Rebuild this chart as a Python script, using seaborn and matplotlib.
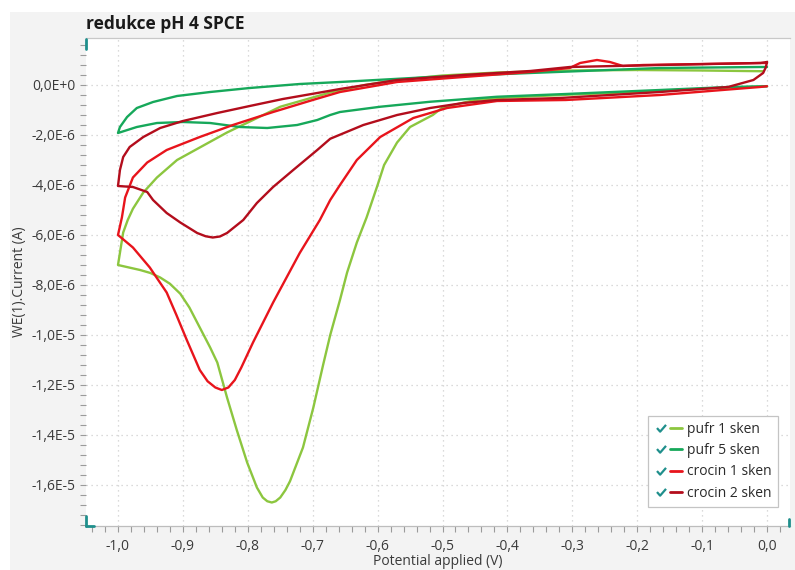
import numpy as np
import pandas as pd
import matplotlib
matplotlib.use("Agg")
import matplotlib.pyplot as plt
import seaborn as sns
from matplotlib.path import Path
from matplotlib.lines import Line2D
from matplotlib.patches import Rectangle
from matplotlib.legend_handler import HandlerTuple
from matplotlib.ticker import MultipleLocator, FuncFormatter

# ---------------- data (potential in V, current in microamps) ----------------
series_names = ["pufr 1 sken", "pufr 5 sken", "crocin 1 sken", "crocin 2 sken"]
series_colors = ["#8cc63f", "#16a85a", "#e8141c", "#b30d1c"]

pufr1_V = [0.0, -0.1, -0.2, -0.3, -0.4, -0.45, -0.5, -0.515, -0.55, -0.57, -0.59, -0.60,
           -0.617, -0.632, -0.647, -0.658, -0.673, -0.684, -0.699, -0.715, -0.735, -0.742,
           -0.750, -0.757, -0.763, -0.770, -0.777, -0.786, -0.801, -0.817, -0.832, -0.847,
           -0.858, -0.869, -0.88, -0.89, -0.904, -0.92, -0.935, -0.95, -0.966, -0.983, -1.0,
           -0.992, -0.985, -0.977, -0.961, -0.940, -0.909, -0.874, -0.832, -0.792, -0.750,
           -0.70, -0.673, -0.62, -0.57, -0.5, -0.416, -0.3, -0.2, -0.1, -0.005]
pufr1_I = [-0.05, -0.15, -0.28, -0.38, -0.5, -0.6, -0.9, -1.2, -1.68, -2.3, -3.2, -4.0,
           -5.3, -6.3, -7.5, -8.6, -10.0, -11.2, -12.9, -14.5, -15.85, -16.2,
           -16.5, -16.65, -16.7, -16.65, -16.5, -16.1, -15.1, -13.8, -12.5, -11.1,
           -10.5, -9.95, -9.4, -8.9, -8.35, -7.95, -7.7, -7.52, -7.4, -7.3, -7.2,
           -5.9, -5.4, -4.95, -4.3, -3.7, -3.0, -2.5, -1.9, -1.4, -0.87,
           -0.5, -0.3, 0.0, 0.2, 0.38, 0.5, 0.58, 0.6, 0.58, 0.55]

pufr5_V = [0.0, -0.06, -0.165, -0.31, -0.416, -0.519, -0.596, -0.658, -0.673, -0.693,
           -0.724, -0.770, -0.812, -0.858, -0.90, -0.94, -0.971, -1.0,
           -0.997, -0.986, -0.971, -0.946, -0.909, -0.858, -0.797, -0.72, -0.658,
           -0.519, -0.365, -0.304, -0.165, -0.01, 0.0]
pufr5_I = [-0.05, -0.08, -0.2, -0.36, -0.47, -0.67, -0.87, -1.08, -1.2, -1.4,
           -1.6, -1.72, -1.68, -1.52, -1.48, -1.52, -1.68, -1.92,
           -1.68, -1.28, -0.92, -0.68, -0.44, -0.28, -0.12, 0.04, 0.12,
           0.32, 0.48, 0.54, 0.68, 0.72, 0.72]

crocin1_V = [0.0, -0.011, -0.165, -0.31, -0.416, -0.493, -0.545, -0.596, -0.632, -0.658,
             -0.673, -0.689, -0.72, -0.761, -0.792, -0.801, -0.81, -0.82, -0.83, -0.84,
             -0.85, -0.862, -0.874, -0.894, -0.91, -0.925, -0.951, -0.977, -1.0,
             -0.994, -0.989, -0.977, -0.955, -0.925, -0.874, -0.823, -0.761, -0.70,
             -0.658, -0.57, -0.468, -0.365, -0.304, -0.288, -0.262, -0.242, -0.222,
             -0.191, -0.1, -0.01, 0.0]
crocin1_I = [-0.05, -0.08, -0.4, -0.6, -0.64, -0.92, -1.32, -2.08, -3.0, -4.0,
             -4.6, -5.4, -6.72, -8.7, -10.3, -10.8, -11.3, -11.8, -12.1, -12.2,
             -12.1, -11.85, -11.4, -10.2, -9.2, -8.3, -7.3, -6.5, -6.0,
             -5.3, -4.5, -3.7, -3.1, -2.6, -2.08, -1.6, -1.08, -0.6,
             -0.28, 0.12, 0.32, 0.52, 0.68, 0.88, 1.0, 0.92, 0.76,
             0.8, 0.84, 0.88, 0.88]

crocin2_V = [0.0, -0.002, -0.006, -0.021, -0.06, -0.165, -0.319, -0.416, -0.468, -0.519,
             -0.57, -0.622, -0.673, -0.693, -0.730, -0.761, -0.786, -0.807, -0.832,
             -0.843, -0.854, -0.865, -0.878, -0.904, -0.925, -0.946, -0.955, -0.977, -1.0,
             -0.997, -0.992, -0.982, -0.961, -0.935, -0.90, -0.847, -0.797, -0.746,
             -0.693, -0.658, -0.57, -0.468, -0.365, -0.304, -0.165, -0.01, 0.0]
crocin2_I = [0.92, 0.7, 0.48, 0.2, -0.08, -0.28, -0.52, -0.6, -0.72, -0.92,
             -1.2, -1.6, -2.15, -2.6, -3.4, -4.08, -4.72, -5.4, -5.92,
             -6.06, -6.1, -6.05, -5.92, -5.5, -5.12, -4.6, -4.28, -4.08, -4.04,
             -3.4, -2.88, -2.48, -2.08, -1.72, -1.44, -1.12, -0.84, -0.56,
             -0.32, -0.16, 0.2, 0.4, 0.56, 0.72, 0.8, 0.88, 0.92]

x_ticks = [-1.0, -0.9, -0.8, -0.7, -0.6, -0.5, -0.4, -0.3, -0.2, -0.1, 0.0]

# ---------------- build long table ----------------
frames = []
for name, V, I in zip(series_names,
                      [pufr1_V, pufr5_V, crocin1_V, crocin2_V],
                      [pufr1_I, pufr5_I, crocin1_I, crocin2_I]):
    frames.append(pd.DataFrame({"V": V, "I": np.array(I) * 1e-6,
                                "series": name, "step": np.arange(len(V))}))
df = pd.concat(frames, ignore_index=True)

# ---------------- style ----------------
sns.set_style("white")
plt.rcParams["font.family"] = ["Open Sans", "DejaVu Sans"]

fig = plt.figure(figsize=(7.95, 5.7), dpi=100, facecolor="white")
fig.patches.append(Rectangle((10 / 795, 0), 1, (570 - 12) / 570,
                             transform=fig.transFigure, facecolor="#f3f3f3",
                             edgecolor="none", zorder=-10))
ax = fig.add_axes([86 / 795, 1 - 526 / 570, 704 / 795, 488 / 570])
ax.set_facecolor("white")

for name, col in zip(series_names, series_colors):
    sub = df[df["series"] == name]
    sns.lineplot(data=sub, x="V", y="I", sort=False, estimator=None,
                 color=col, lw=1.7, ax=ax, legend=False)

ax.set_xlim(-1.0493, 0.0354)
ax.set_ylim(-17.64e-6, 1.88e-6)

ax.xaxis.set_major_locator(matplotlib.ticker.FixedLocator(x_ticks))
ax.xaxis.set_minor_locator(MultipleLocator(0.02))
ax.yaxis.set_major_locator(MultipleLocator(2e-6))
ax.yaxis.set_minor_locator(MultipleLocator(0.4e-6))


def xfmt(v, pos):
    if abs(v) < 1e-9:
        return "0,0"
    return f"{v:.1f}".replace(".", ",")


def yfmt(v, pos):
    if abs(v) < 1e-12:
        return "0,0E+0"
    e = int(np.floor(np.log10(abs(v)) + 1e-9))
    m = v / 10 ** e
    return f"{m:.1f}".replace(".", ",") + f"E{e:+d}"


ax.xaxis.set_major_formatter(FuncFormatter(xfmt))
ax.yaxis.set_major_formatter(FuncFormatter(yfmt))

ax.tick_params(axis="both", which="major", direction="out", length=4.5, width=0.8,
               color="#9a9a9a", labelsize=10, labelcolor="#3a3a3a", pad=3)
ax.tick_params(axis="both", which="minor", direction="out", length=4, width=0.8,
               color="#9a9a9a")
ax.tick_params(axis="x", which="major", pad=5)
ax.tick_params(left=True, bottom=True, which="both")

ax.grid(True, which="major", color="#cfcfcf", linestyle=(0, (1, 3)), lw=0.9)
ax.set_axisbelow(True)

for s in ["left", "right"]:
    ax.spines[s].set_visible(False)
ax.spines["top"].set_color("#c8c8c8")
ax.spines["bottom"].set_color("#bdbdbd")
ax.spines["top"].set_linewidth(0.9)
ax.spines["bottom"].set_linewidth(0.9)

ax.set_xlabel("Potential applied (V)", fontsize=10, color="#3a3a3a", labelpad=0)
ax.set_ylabel("WE(1).Current (A)", fontsize=10, color="#3a3a3a", labelpad=3)
ax.set_title("redukce pH 4 SPCE", loc="left", fontsize=12.5, fontweight="bold",
             color="#1a1a1a", pad=6.5)

# small teal scroll handles (decoration)
teal = "#1f8f8c"
for xs, ys in [([0, 0], [0.978, 0.997]), ([0, 0], [0.0, 0.02]), ([0, 0.012], [0, 0]),
               ([0.998, 0.998], [0.0, 0.015])]:
    ax.add_line(Line2D(xs, ys, transform=ax.transAxes, color=teal, lw=2,
                       clip_on=False, zorder=5))

# legend with check marks
check = Path([(-1.0, 0.1), (-0.3, -0.7), (1.0, 0.8)],
             [Path.MOVETO, Path.LINETO, Path.LINETO])
handles = []
for col in series_colors:
    chk = Line2D([], [], marker=check, markersize=6.5, markeredgewidth=1.6,
                 markeredgecolor=teal, markerfacecolor="none", linestyle="none")
    ln = Line2D([], [], color=col, lw=2)
    handles.append((chk, ln))
leg = ax.legend(handles, series_names, loc="lower right",
                bbox_to_anchor=(0.983, 0.039), fontsize=10, frameon=True,
                fancybox=False, edgecolor="#c4c4c4", framealpha=1,
                handlelength=2.0, handletextpad=0.35, labelspacing=0.45,
                borderpad=0.45, borderaxespad=0,
                handler_map={tuple: HandlerTuple(ndivide=2, pad=0.25)})
leg.get_frame().set_linewidth(0.9)
for t in leg.get_texts():
    t.set_color("#2a2a2a")

fig.savefig("out.png", dpi=100)
